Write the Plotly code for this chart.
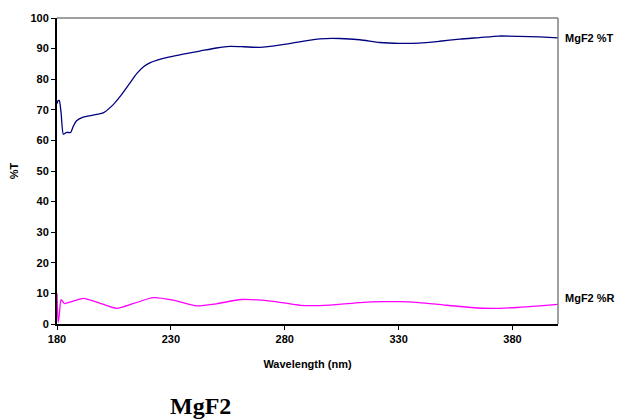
import plotly.graph_objects as go

wl_T = [180, 180.5, 181, 181.8, 182.8, 184.2, 186, 187.2, 188.6, 191.5, 197.4, 200.3, 204.7, 208,
        212, 215, 218, 221, 224, 229, 235.4, 242.7, 250, 255.9, 262, 269, 279, 287, 295.4, 304, 313, 321.7, 330.4, 339,
        348, 356.8, 365.5, 374, 383, 391.8, 400]
pct_T = [72, 73, 73, 69, 62.0, 62.6, 62.6, 64.7, 66.4, 67.6, 68.5, 69.0, 71.7, 74.6,
         78.7, 81.8, 84.1, 85.4, 86.2, 87.2, 88.2, 89.2, 90.2, 90.7, 90.6, 90.4, 91.3, 92.3, 93.2, 93.3, 92.9, 92.0, 91.7, 91.8,
         92.4, 93.1, 93.6, 94.1, 94.0, 93.8, 93.5]

wl_R = [180, 180.5, 181, 181.8, 183.2, 186, 191.5, 198, 206.2, 214, 222.3, 231, 241.3, 250,
        261, 274, 287, 300, 313, 323, 330, 339, 350, 362, 371, 382, 392, 400]
pct_R = [10, 0.5, 3, 8, 6.7, 7.2, 8.4, 7.0, 5.1, 6.8, 8.6, 7.8, 5.9, 6.6,
         8.0, 7.5, 6.1, 6.2, 7.0, 7.3, 7.3, 7.0, 6.2, 5.4, 5.1, 5.4, 5.9, 6.4]

x_ticks = [180, 230, 280, 330, 380]
y_ticks = list(range(0, 101, 10))

font_family = "Liberation Sans, Arial, sans-serif"

fig = go.Figure()
fig.add_trace(go.Scatter(x=wl_T, y=pct_T, mode="lines", line=dict(color="#000080", width=1.3, shape="spline", smoothing=0.6),
                         name="MgF2 %T", showlegend=False))
fig.add_trace(go.Scatter(x=wl_R, y=pct_R, mode="lines", line=dict(color="#FF00FF", width=1.3, shape="spline", smoothing=0.6),
                         name="MgF2 %R", showlegend=False))

fig.update_layout(
    width=619, height=419,
    margin=dict(l=57, r=61, t=14, b=95),
    paper_bgcolor="white", plot_bgcolor="white",
    font=dict(family=font_family, size=11, color="black"),
    xaxis=dict(range=[180, 400], tickvals=x_ticks, ticks="outside", ticklen=4, tickcolor="black",
               showline=True, linecolor="black", linewidth=2, showgrid=False, zeroline=False,
               tickfont=dict(family=font_family, size=11, weight="bold"),
               title=dict(text="Wavelength (nm)", font=dict(family=font_family, size=11, weight="bold"), standoff=16)),
    yaxis=dict(range=[0, 100], tickvals=y_ticks, ticks="outside", ticklen=4, tickcolor="black",
               showline=True, linecolor="black", linewidth=2, showgrid=False, zeroline=False,
               tickfont=dict(family=font_family, size=11, weight="bold"),
               title=dict(text="%T", font=dict(family=font_family, size=11, weight="bold"), standoff=10)),
    shapes=[
        dict(type="line", xref="paper", yref="paper", x0=0, x1=1, y0=1, y1=1, line=dict(color="#808080", width=1.5)),
        dict(type="line", xref="paper", yref="paper", x0=1, x1=1, y0=0, y1=1, line=dict(color="#808080", width=1.5)),
    ],
    annotations=[
        dict(text="MgF2 %T", xref="paper", yref="y", x=1.01, y=pct_T[-1], xanchor="left", yanchor="middle",
             showarrow=False, font=dict(family=font_family, size=11, weight="bold")),
        dict(text="MgF2 %R", xref="paper", yref="y", x=1.01, y=pct_R[-1] + 2, xanchor="left", yanchor="middle",
             showarrow=False, font=dict(family=font_family, size=11, weight="bold")),
        dict(text="MgF2", xref="paper", yref="paper", x=(200 - 57) / 501, y=-(407 - 324) / 310, xanchor="center", yanchor="middle",
             showarrow=False, font=dict(family="Liberation Serif, Times New Roman, serif", size=24, weight="bold")),
    ],
)

fig.write_html("out.html")
